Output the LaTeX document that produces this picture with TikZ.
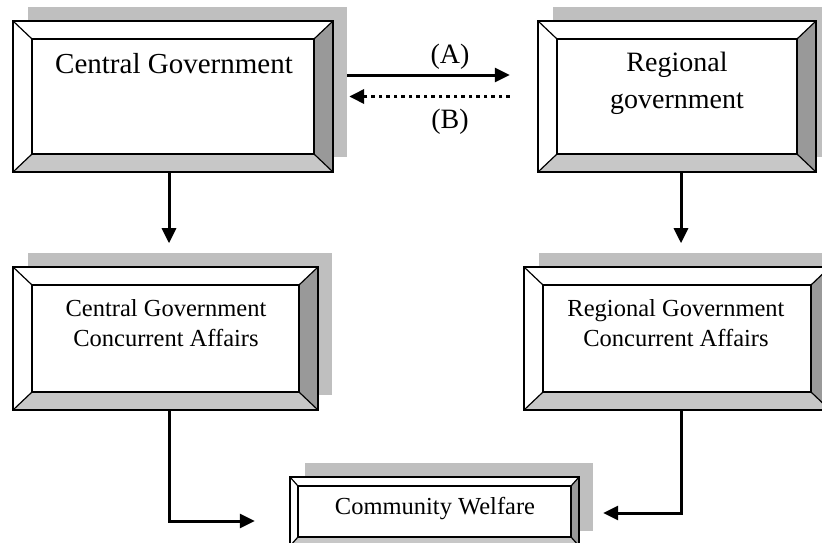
\documentclass[tikz,border=0pt]{standalone}
\usepackage{fontspec}
\setmainfont{Liberation Serif}
\usetikzlibrary{calc}
\usetikzlibrary{arrows.meta}

% bevelled frame with shadow round node #1, bevel #2 (x) and #3 (y)
\newcommand{\bevelframe}[3]{%
  \fill[framegray] ($(#1.north west)+(15,-14)$) rectangle ($(#1.south east)+(14,-15)$);%
  \fill[white] (#1.north west) rectangle (#1.south east);%
  \coordinate (#1-i1) at ($(#1.north west)+(#2,#3)$);%
  \coordinate (#1-i2) at ($(#1.north east)+(-#2,#3)$);%
  \coordinate (#1-i3) at ($(#1.south east)+(-#2,-#3)$);%
  \coordinate (#1-i4) at ($(#1.south west)+(#2,-#3)$);%
  \fill[beveldark] (#1.north east) -- (#1.south east) -- (#1-i3) -- (#1-i2) -- cycle;%
  \fill[bevellight] (#1.south west) -- (#1.south east) -- (#1-i3) -- (#1-i4) -- cycle;%
  \draw[line width=2pt] (#1.north west) rectangle (#1.south east);%
  \draw[line width=2pt] (#1-i1) rectangle (#1-i3);%
  \draw[line width=1.2pt] (#1.north west) -- (#1-i1) (#1.north east) -- (#1-i2)
    (#1.south east) -- (#1-i3) (#1.south west) -- (#1-i4);%
}

\begin{document}
\begin{tikzpicture}[x=1pt,y=-1pt,
  panel/.style={rectangle,inner sep=0pt},
  lbl/.style={font=\fontsize{28}{34}\selectfont,align=center,inner sep=0pt},
  small/.style={font=\fontsize{24.5}{30}\selectfont},
  arr/.style={line width=3pt,-{Triangle[length=15pt,width=14pt]}},
  dotarr/.style={line width=3.5pt,dash pattern=on 3.5pt off 4pt,-{Triangle[length=15pt,width=14pt]}}]

  % Changing colours
  \definecolor{framegray}{rgb}{0.749,0.749,0.749}%
  \definecolor{beveldark}{rgb}{0.600,0.600,0.600}%
  \definecolor{bevellight}{rgb}{0.780,0.780,0.780}%

  \useasboundingbox (0,0) rectangle (822,542);

  % Central government
  \node[panel,minimum width=320pt,minimum height=151pt] (cg) at (173,96.5) {};
  \bevelframe{cg}{19}{18}
  \node[lbl,font=\fontsize{29}{34}\selectfont] (cgtxt) at (174,64) {Central Government};

  % Regional government
  \node[panel,minimum width=278pt,minimum height=151pt] (rg) at (677,96.5) {};
  \bevelframe{rg}{19}{18}
  \node[lbl,font=\fontsize{28}{37}\selectfont] (rgtxt) at (677,83) {Regional\\government};

  % Central concurrent affairs
  \node[panel,minimum width=305pt,minimum height=143pt] (cgca) at (165.5,338.5) {};
  \bevelframe{cgca}{19}{18}
  \node[lbl,small] (cgcatxt) at (166,323) {Central Government\\Concurrent Affairs};

  % Regional concurrent affairs
  \node[panel,minimum width=306pt,minimum height=143pt] (rgca) at (677,338.5) {};
  \bevelframe{rgca}{19}{18}
  \node[lbl,small] (rgcatxt) at (676,323) {Regional Government\\Concurrent Affairs};

  % Community welfare
  \node[panel,minimum width=289pt,minimum height=69pt] (cw) at (434.5,511.5) {};
  \bevelframe{cw}{8}{9}
  \node[lbl,small] (cwtxt) at (435,509) {Community Welfare};

  % Drawing arrows A and B
  \draw[arr] ($(cg.east)+(14,-21.5)$) -- ($(rg.west)+(-28,-21.5)$);
  \draw[dotarr] ($(rg.west)+(-28,0)$) -- ($(cg.east)+(16,0)$);
  \node[lbl] (lblA) at (450,57) {(A)};
  \node[lbl] (lblB) at (450,122) {(B)};

  % Drawing arrows down
  \draw[arr] ($(cg.south)+(-4,0)$) -- ($(cg.south)+(-4,71)$);
  \draw[arr] ($(rg.south)+(4,0)$) -- ($(rg.south)+(4,71)$);

  % Drawing arrows to community welfare
  \draw[arr] ($(cgca.south)+(3.5,0)$) |- ($(cw.west)+(-35,9.5)$);
  \draw[arr] ($(rgca.south)+(4,0)$) |- ($(cw.east)+(24,1.5)$);
\end{tikzpicture}
\end{document}
